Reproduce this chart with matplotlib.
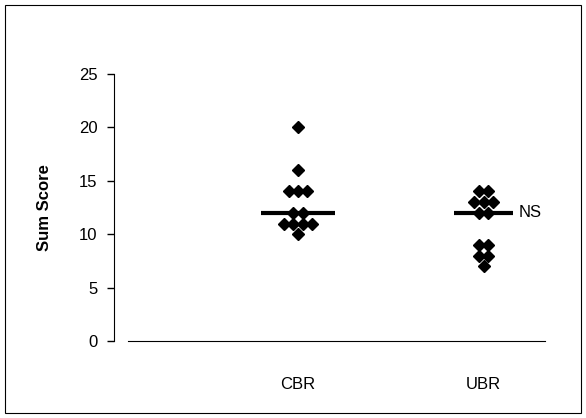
"""Sum score dot plot, CBR vs UBR, with median bars."""

import matplotlib

matplotlib.use("Agg")
import matplotlib.pyplot as plt
import numpy as np
from matplotlib.patches import Rectangle

# ---------------------------------------------------------------------------
# Data
# ---------------------------------------------------------------------------
groups = ["CBR", "UBR"]
cbr_scores = [20, 16, 14, 14, 14, 12, 12, 11, 11, 11, 11, 10]
ubr_scores = [14, 14, 13, 13, 13, 12, 12, 9, 9, 8, 8, 7]
annotation = "NS"

plt.rcParams["font.family"] = ["Liberation Sans", "DejaVu Sans"]

STEP = 0.05  # horizontal spread between tied values
MEDIAN_HALF = [0.2, 0.16]  # half width of the median bars


def spread(values, centre):
    """Spread tied values side by side around the group centre."""
    xs = []
    vals = np.array(values)
    for v in values:
        n = int((vals == v).sum())
        k = sum(1 for x in xs if x[1] == v)
        xs.append((centre + (k - (n - 1) / 2) * STEP, v))
    return [x for x, _ in xs]


fig = plt.figure(figsize=(5.86, 4.18), dpi=100)
ax = fig.add_axes([0.1945, 0.1842, 0.7355, 0.6388])

for i, scores in enumerate([cbr_scores, ubr_scores]):
    centre = i + 1
    ax.plot(spread(scores, centre), scores, "D", color="black", markersize=6.5,
            linestyle="none")
    med = np.median(scores)
    hw = MEDIAN_HALF[i]
    ax.plot([centre - hw, centre + hw], [med, med], color="black", lw=3,
            solid_capstyle="butt")

ax.text(2.19, np.median(ubr_scores), annotation, fontsize=12, va="center", ha="left")

ax.set_xlim(0.01, 2.33)
ax.set_ylim(0, 25)
ax.set_yticks(range(0, 26, 5))
ax.set_xticks([1, 2])
ax.set_xticklabels(groups, fontsize=12)
ax.tick_params(axis="x", length=0, pad=26)
ax.tick_params(axis="y", length=5, width=1, direction="out", labelsize=12, pad=7)
ax.set_ylabel("Sum Score", fontsize=12, fontweight="bold", labelpad=19)

ax.spines["top"].set_visible(False)
ax.spines["right"].set_visible(False)
ax.spines["bottom"].set_bounds(0.085, 2.33)

fig.patches.append(Rectangle((5 / 586, 5 / 418), 576 / 586, 408 / 418,
                             transform=fig.transFigure, fill=False,
                             edgecolor="black", lw=0.8))

fig.savefig("out.png", dpi=100)
